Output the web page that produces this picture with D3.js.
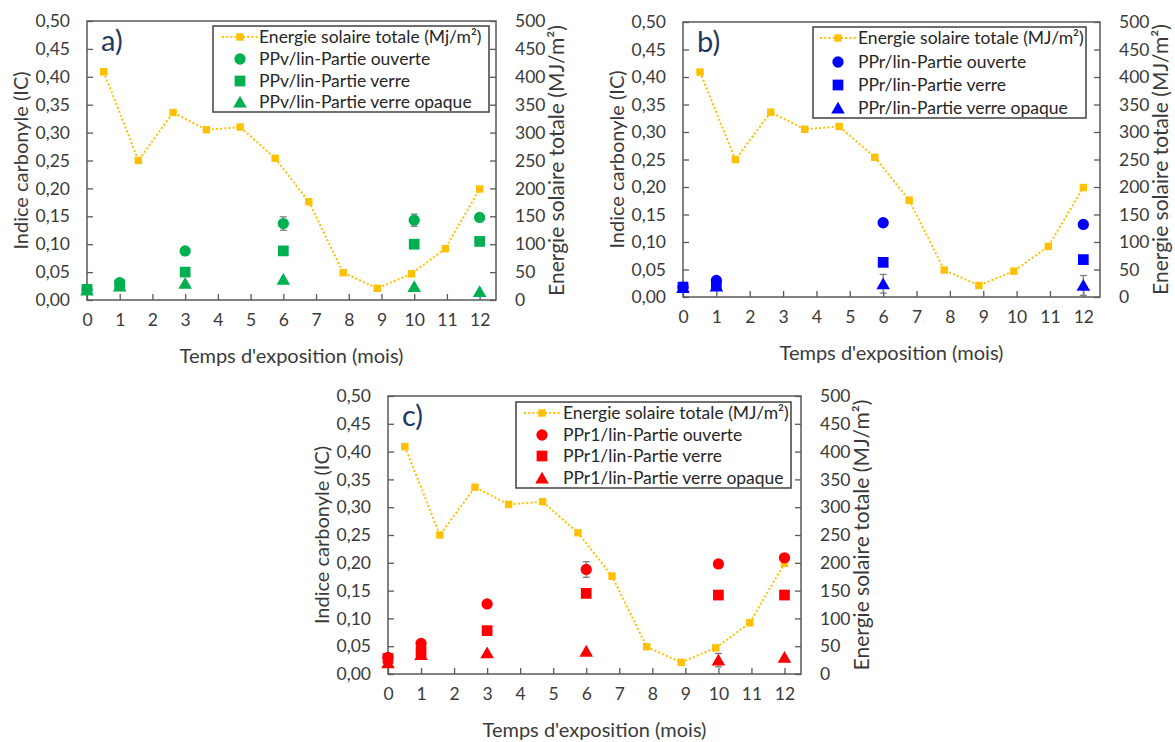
<!DOCTYPE html>
<html><head><meta charset="utf-8">
<script src="https://cdn.jsdelivr.net/npm/d3@7"></script>
<style>html,body{margin:0;padding:0;background:#fff;}svg{display:block;}</style>
</head><body>
<svg id="chart" width="1175" height="742"></svg>
<script>
// ---------- DATA ----------
const xTicks = [0,1,2,3,4,5,6,7,8,9,10,11,12];
const leftTicks = [0,0.05,0.10,0.15,0.20,0.25,0.30,0.35,0.40,0.45,0.50];
const rightTicks = [0,50,100,150,200,250,300,350,400,450,500];

const energyMonths = [0.51,1.57,2.63,3.65,4.68,5.75,6.78,7.83,8.87,9.92,10.95,12.0];
const energyValues = [409,250,336,305,310,254,176,49,21,47,92,199];

const monthsA = [0,1,3,6,10,12];
const aOuverte = [0.019,0.031,0.088,0.137,0.143,0.148];
const aOuverteErr = [0,0.003,0.004,0.012,0.011,0.004];
const aVerre = [0.019,0.027,0.050,0.088,0.100,0.105];
const aVerreErr = [0,0.002,0.006,0.005,0.003,0.003];
const aOpaque = [0.018,0.025,0.030,0.037,0.024,0.015];
const aOpaqueErr = [0,0,0,0,0,0];

const monthsB = [0,1,6,12];
const bOuverte = [0.018,0.030,0.135,0.132];
const bOuverteErr = [0,0,0,0];
const bVerre = [0.018,0.022,0.063,0.068];
const bVerreErr = [0,0,0,0];
const bOpaque = [0.017,0.020,0.024,0.021];
const bOpaqueErr = [0,0,0.017,0.018];

const monthsC = [0,1,3,6,10,12];
const cOuverte = [0.030,0.055,0.126,0.188,0.198,0.209];
const cOuverteErr = [0.005,0.004,0.003,0.014,0.003,0.004];
const cVerre = [0.028,0.040,0.078,0.145,0.142,0.142];
const cVerreErr = [0,0,0,0,0,0];
const cOpaque = [0.020,0.035,0.038,0.041,0.025,0.030];
const cOpaqueErr = [0,0,0,0,0.012,0];

const labelsA = ["Energie solaire totale (Mj/m²)","PPv/lin-Partie ouverte","PPv/lin-Partie verre","PPv/lin-Partie verre opaque"];
const labelsB = ["Energie solaire totale (MJ/m²)","PPr/lin-Partie ouverte","PPr/lin-Partie verre","PPr/lin-Partie verre opaque"];
const labelsC = ["Energie solaire totale (MJ/m²)","PPr1/lin-Partie ouverte","PPr1/lin-Partie verre","PPr1/lin-Partie verre opaque"];

// ---------- STYLE / LAYOUT ----------
const FONT = "Lato, 'Open Sans', sans-serif";
const TXT = "#3A3A3A";
const AXIS = "#595959";
const ENERGY = "#FFC000";

const panels = [
  {tag:"a)", color:"#00B050", L:87, R:496, T:21, B:300,
   leg:{x0:213,x1:489,y0:26,y1:112,sx:240,tx:259,ys:[37,59,81,102]},
   labels:labelsA, months:monthsA,
   series:[[aOuverte,aOuverteErr],[aVerre,aVerreErr],[aOpaque,aOpaqueErr]]},
  {tag:"b)", color:"#0000FF", L:683, R:1100, T:22, B:297,
   leg:{x0:813,x1:1086,y0:27,y1:118,sx:838,tx:858,ys:[38,62,85,108]},
   labels:labelsB, months:monthsB,
   series:[[bOuverte,bOuverteErr],[bVerre,bVerreErr],[bOpaque,bOpaqueErr]]},
  {tag:"c)", color:"#FF0000", L:388, R:801, T:396, B:674,
   leg:{x0:516,x1:791,y0:402,y1:488,sx:542,tx:563,ys:[413,435,456,478]},
   labels:labelsC, months:monthsC,
   series:[[cOuverte,cOuverteErr],[cVerre,cVerreErr],[cOpaque,cOpaqueErr]]}
];
const shapes = [d3.symbolCircle, d3.symbolSquare, d3.symbolTriangle];
const shapeSizes = [100, 115, 80];

const svg = d3.select("#chart");
const fmt = d => d3.format(".2f")(d).replace(".", ",");

panels.forEach(p => {
  const g = svg.append("g");
  const x = d3.scaleLinear().domain([0,12.5]).range([p.L,p.R]);
  const y = d3.scaleLinear().domain([0,0.5]).range([p.B,p.T]);
  const yR = d3.scaleLinear().domain([0,500]).range([p.B,p.T]);

  // axes (inside ticks)
  const ax = g.append("g").attr("transform",`translate(0,${p.B})`)
    .call(d3.axisBottom(x).tickValues(xTicks).tickSize(-6).tickPadding(14).tickFormat(d3.format("d")));
  const ayl = g.append("g").attr("transform",`translate(${p.L},0)`)
    .call(d3.axisLeft(y).tickValues(leftTicks).tickSize(-6).tickPadding(17).tickFormat(fmt));
  const ayr = g.append("g").attr("transform",`translate(${p.R},0)`)
    .call(d3.axisRight(yR).tickValues(rightTicks).tickSize(-6).tickPadding(19).tickFormat(d3.format("d")));
  [ax,ayl,ayr].forEach(a => {
    a.select(".domain").remove();
    a.selectAll(".tick line").attr("stroke",AXIS).attr("stroke-width",1.3);
    a.selectAll(".tick text").attr("fill",TXT).style("font-family",FONT).style("font-size","17.5px");
  });
  // frame
  g.append("rect").attr("x",p.L).attr("y",p.T).attr("width",p.R-p.L).attr("height",p.B-p.T)
    .attr("fill","none").attr("stroke",AXIS).attr("stroke-width",1.5);

  // titles
  g.append("text").attr("x",(p.L+p.R)/2).attr("y",p.B+63).attr("text-anchor","middle")
    .attr("fill",TXT).style("font-family",FONT).style("font-size","20px").text("Temps d'exposition (mois)");
  g.append("text").attr("transform",`translate(${p.L-59},${(p.T+p.B)/2}) rotate(-90)`).attr("text-anchor","middle")
    .attr("fill",TXT).style("font-family",FONT).style("font-size","20px").text("Indice carbonyle (IC)");
  g.append("text").attr("transform",`translate(${p.R+68},${(p.T+p.B)/2}) rotate(-90)`).attr("text-anchor","middle")
    .attr("fill",TXT).style("font-family",FONT).style("font-size","21px").text("Energie solaire totale (MJ/m²)");

  // panel tag
  g.append("text").attr("x",p.L+14).attr("y",p.T+30).attr("fill","#1F3864")
    .style("font-family",FONT).style("font-size","29px").text(p.tag);

  // energy line
  const pts = energyMonths.map((m,i)=>[m,energyValues[i]]);
  g.append("path").datum(pts)
    .attr("d", d3.line().x(d=>x(d[0])).y(d=>yR(d[1])))
    .attr("fill","none").attr("stroke",ENERGY).attr("stroke-width",2).attr("stroke-dasharray","2,2.2");
  g.selectAll(".en").data(pts).join("rect")
    .attr("x",d=>x(d[0])-3.7).attr("y",d=>yR(d[1])-3.7).attr("width",7.4).attr("height",7.4).attr("fill",ENERGY);

  // series
  p.series.forEach((s,si) => {
    const vals = s[0], errs = s[1];
    const data = p.months.map((m,i)=>({m, v:vals[i], e:errs[i]}));
    data.filter(d=>d.e>0).forEach(d => {
      const xx = x(d.m);
      g.append("line").attr("x1",xx).attr("x2",xx).attr("y1",y(d.v-d.e)).attr("y2",y(d.v+d.e))
        .attr("stroke","#7F7F7F").attr("stroke-width",1.3);
      [d.v-d.e, d.v+d.e].forEach(v => g.append("line").attr("x1",xx-3.5).attr("x2",xx+3.5)
        .attr("y1",y(v)).attr("y2",y(v)).attr("stroke","#7F7F7F").attr("stroke-width",1.3));
    });
    g.selectAll(".s"+si).data(data).join("path")
      .attr("transform",d=>`translate(${x(d.m)},${y(d.v) + (si===2?1.5:0)})`)
      .attr("d", d3.symbol().type(shapes[si]).size(shapeSizes[si]))
      .attr("fill",p.color);
  });

  // legend
  const lg = p.leg;
  g.append("rect").attr("x",lg.x0).attr("y",lg.y0).attr("width",lg.x1-lg.x0).attr("height",lg.y1-lg.y0)
    .attr("fill","#fff").attr("stroke","#404040").attr("stroke-width",1.5);
  g.append("line").attr("x1",lg.sx-18).attr("x2",lg.sx+18).attr("y1",lg.ys[0]).attr("y2",lg.ys[0])
    .attr("stroke",ENERGY).attr("stroke-width",2).attr("stroke-dasharray","2,2.2");
  g.append("rect").attr("x",lg.sx-3.7).attr("y",lg.ys[0]-3.7).attr("width",7.4).attr("height",7.4).attr("fill",ENERGY);
  [0,1,2].forEach(si => {
    g.append("path").attr("transform",`translate(${lg.sx},${lg.ys[si+1] + (si===2?1.5:0)})`)
      .attr("d", d3.symbol().type(shapes[si]).size(shapeSizes[si])).attr("fill",p.color);
  });
  p.labels.forEach((t,i) => {
    g.append("text").attr("x",lg.tx).attr("y",lg.ys[i]).attr("dy","0.35em")
      .attr("fill","#262626").style("font-family",FONT).style("font-size","17.5px").text(t);
  });
});
</script>
</body></html>
